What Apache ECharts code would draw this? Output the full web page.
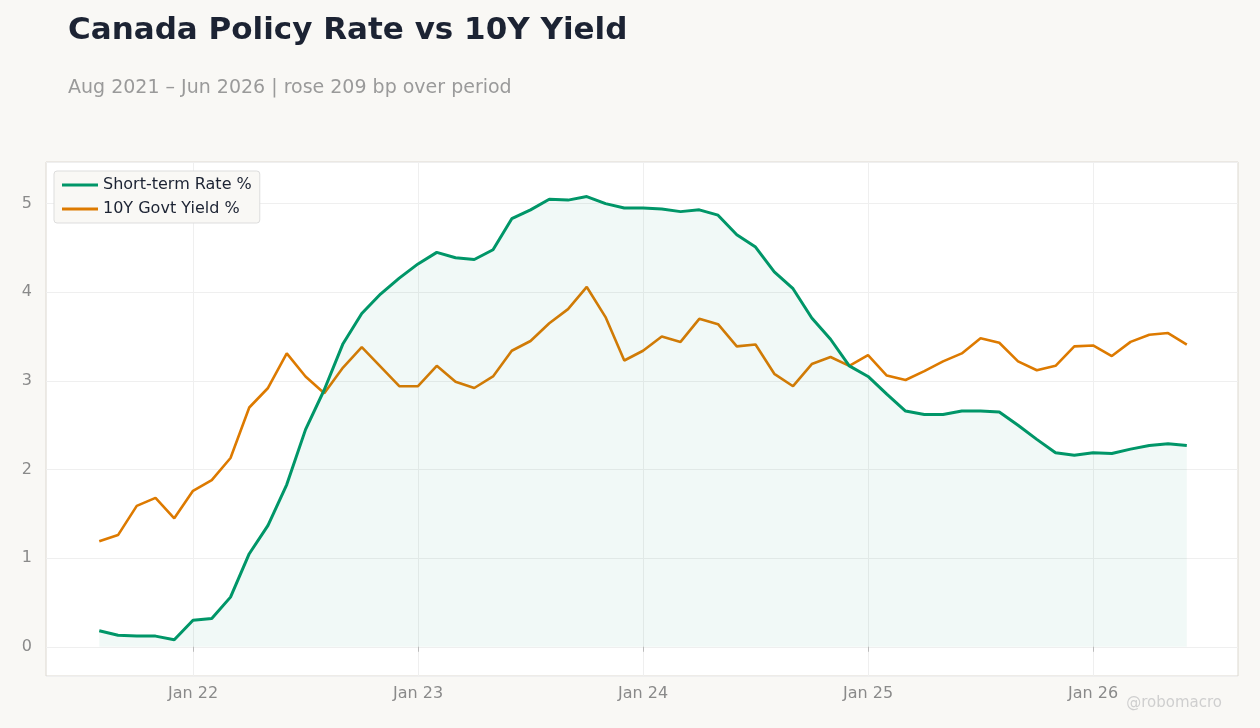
<!DOCTYPE html>
<html><head><meta charset="utf-8">
<script src="https://cdn.jsdelivr.net/npm/echarts@6/dist/echarts.min.js"></script>
<style>html,body{margin:0;padding:0;background:#f9f8f5}#c{width:1260px;height:728px}</style>
</head><body><div id="c"></div>
<script>
// month index: 0 = Jan 2022; data start Aug 2021 (-5)
const startIndex = -5;
const shortRate = [0.18,0.13,0.12,0.12,0.08,0.30,0.32,0.56,1.05,1.37,1.83,2.45,2.90,3.42,3.76,3.98,4.16,4.32,4.45,4.39,4.37,4.48,4.83,4.93,5.05,5.04,5.08,5.00,4.95,4.95,4.94,4.91,4.93,4.87,4.65,4.51,4.23,4.04,3.71,3.47,3.17,3.05,2.85,2.66,2.62,2.62,2.66,2.66,2.65,2.50,2.34,2.19,2.16,2.19,2.18,2.23,2.27,2.29,2.27];
const yield10 = [1.19,1.26,1.59,1.68,1.45,1.76,1.88,2.13,2.70,2.92,3.31,3.05,2.86,3.15,3.38,3.16,2.94,2.94,3.17,2.99,2.92,3.05,3.34,3.45,3.65,3.81,4.06,3.72,3.23,3.34,3.50,3.44,3.70,3.64,3.39,3.41,3.08,2.94,3.19,3.27,3.17,3.29,3.06,3.01,3.11,3.22,3.31,3.48,3.43,3.22,3.12,3.17,3.39,3.40,3.28,3.44,3.52,3.54,3.41];
const xTicks = [0,12,24,36,48];
const xTickLabels = ['Jan 22','Jan 23','Jan 24','Jan 25','Jan 26'];
const yTicks = [0,1,2,3,4,5];

const s1 = shortRate.map((v,i)=>[startIndex+i,v]);
const s2 = yield10.map((v,i)=>[startIndex+i,v]);
const chart = echarts.init(document.getElementById('c'));
chart.setOption({
  backgroundColor:'#f9f8f5',
  animation:false,
  title:[
    {text:'Canada Policy Rate vs 10Y Yield',left:63,top:10,textStyle:{fontFamily:'DejaVu Sans',fontSize:31,fontWeight:'bold',color:'#1c2333'}},
    {text:'Aug 2021 – Jun 2026 | rose 209 bp over period',left:63,top:74,textStyle:{fontFamily:'DejaVu Sans',fontSize:19,fontWeight:'normal',color:'#9a9a9a'}}
  ],
  graphic:[{type:'text',right:38,top:696,style:{text:'@robomacro',fontFamily:'DejaVu Sans',fontSize:15,fill:'#cfcfcf'}}],
  legend:{left:54,top:171,orient:'vertical',itemGap:8,backgroundColor:'#f9f8f5',borderColor:'#dddddd',borderWidth:1,borderRadius:3,padding:[6,8],itemWidth:36,itemHeight:3,
    textStyle:{fontFamily:'DejaVu Sans',fontSize:16,color:'#1c2333'},
    data:[{name:'Short-term Rate %',icon:'rect'},{name:'10Y Govt Yield %',icon:'rect'}]},
  grid:{left:46,right:22,top:162,bottom:52,show:true,backgroundColor:'#ffffff',borderColor:'#dcd8d0',borderWidth:1},
  xAxis:{type:'value',min:-7.84,max:55.73,
    axisLine:{show:false},
    axisTick:{show:true,customValues:xTicks,length:5,lineStyle:{color:'#bbb'}},
    axisLabel:{customValues:xTicks,formatter:v=>xTickLabels[xTicks.indexOf(v)],fontFamily:'DejaVu Sans',fontSize:16,color:'#8a8a8a',margin:10},
    splitLine:{show:true,lineStyle:{color:'#efefef'}}},
  yAxis:{type:'value',min:-0.33,max:5.47,
    axisLine:{show:false},axisTick:{show:false},
    axisLabel:{customValues:yTicks,fontFamily:'DejaVu Sans',fontSize:16,color:'#8a8a8a',margin:14},
    splitLine:{show:true,lineStyle:{color:'#efefef'}}},
  series:[
    {name:'Short-term Rate %',type:'line',data:s1,showSymbol:false,symbol:'none',lineStyle:{color:'#009668',width:3},itemStyle:{color:'#009668'},areaStyle:{color:'rgba(0,150,104,0.08)'},z:3},
    {name:'10Y Govt Yield %',type:'line',data:s2,showSymbol:false,symbol:'none',lineStyle:{color:'#dd7a00',width:2.6},itemStyle:{color:'#dd7a00'},z:2}
  ]
});
</script></body></html>
